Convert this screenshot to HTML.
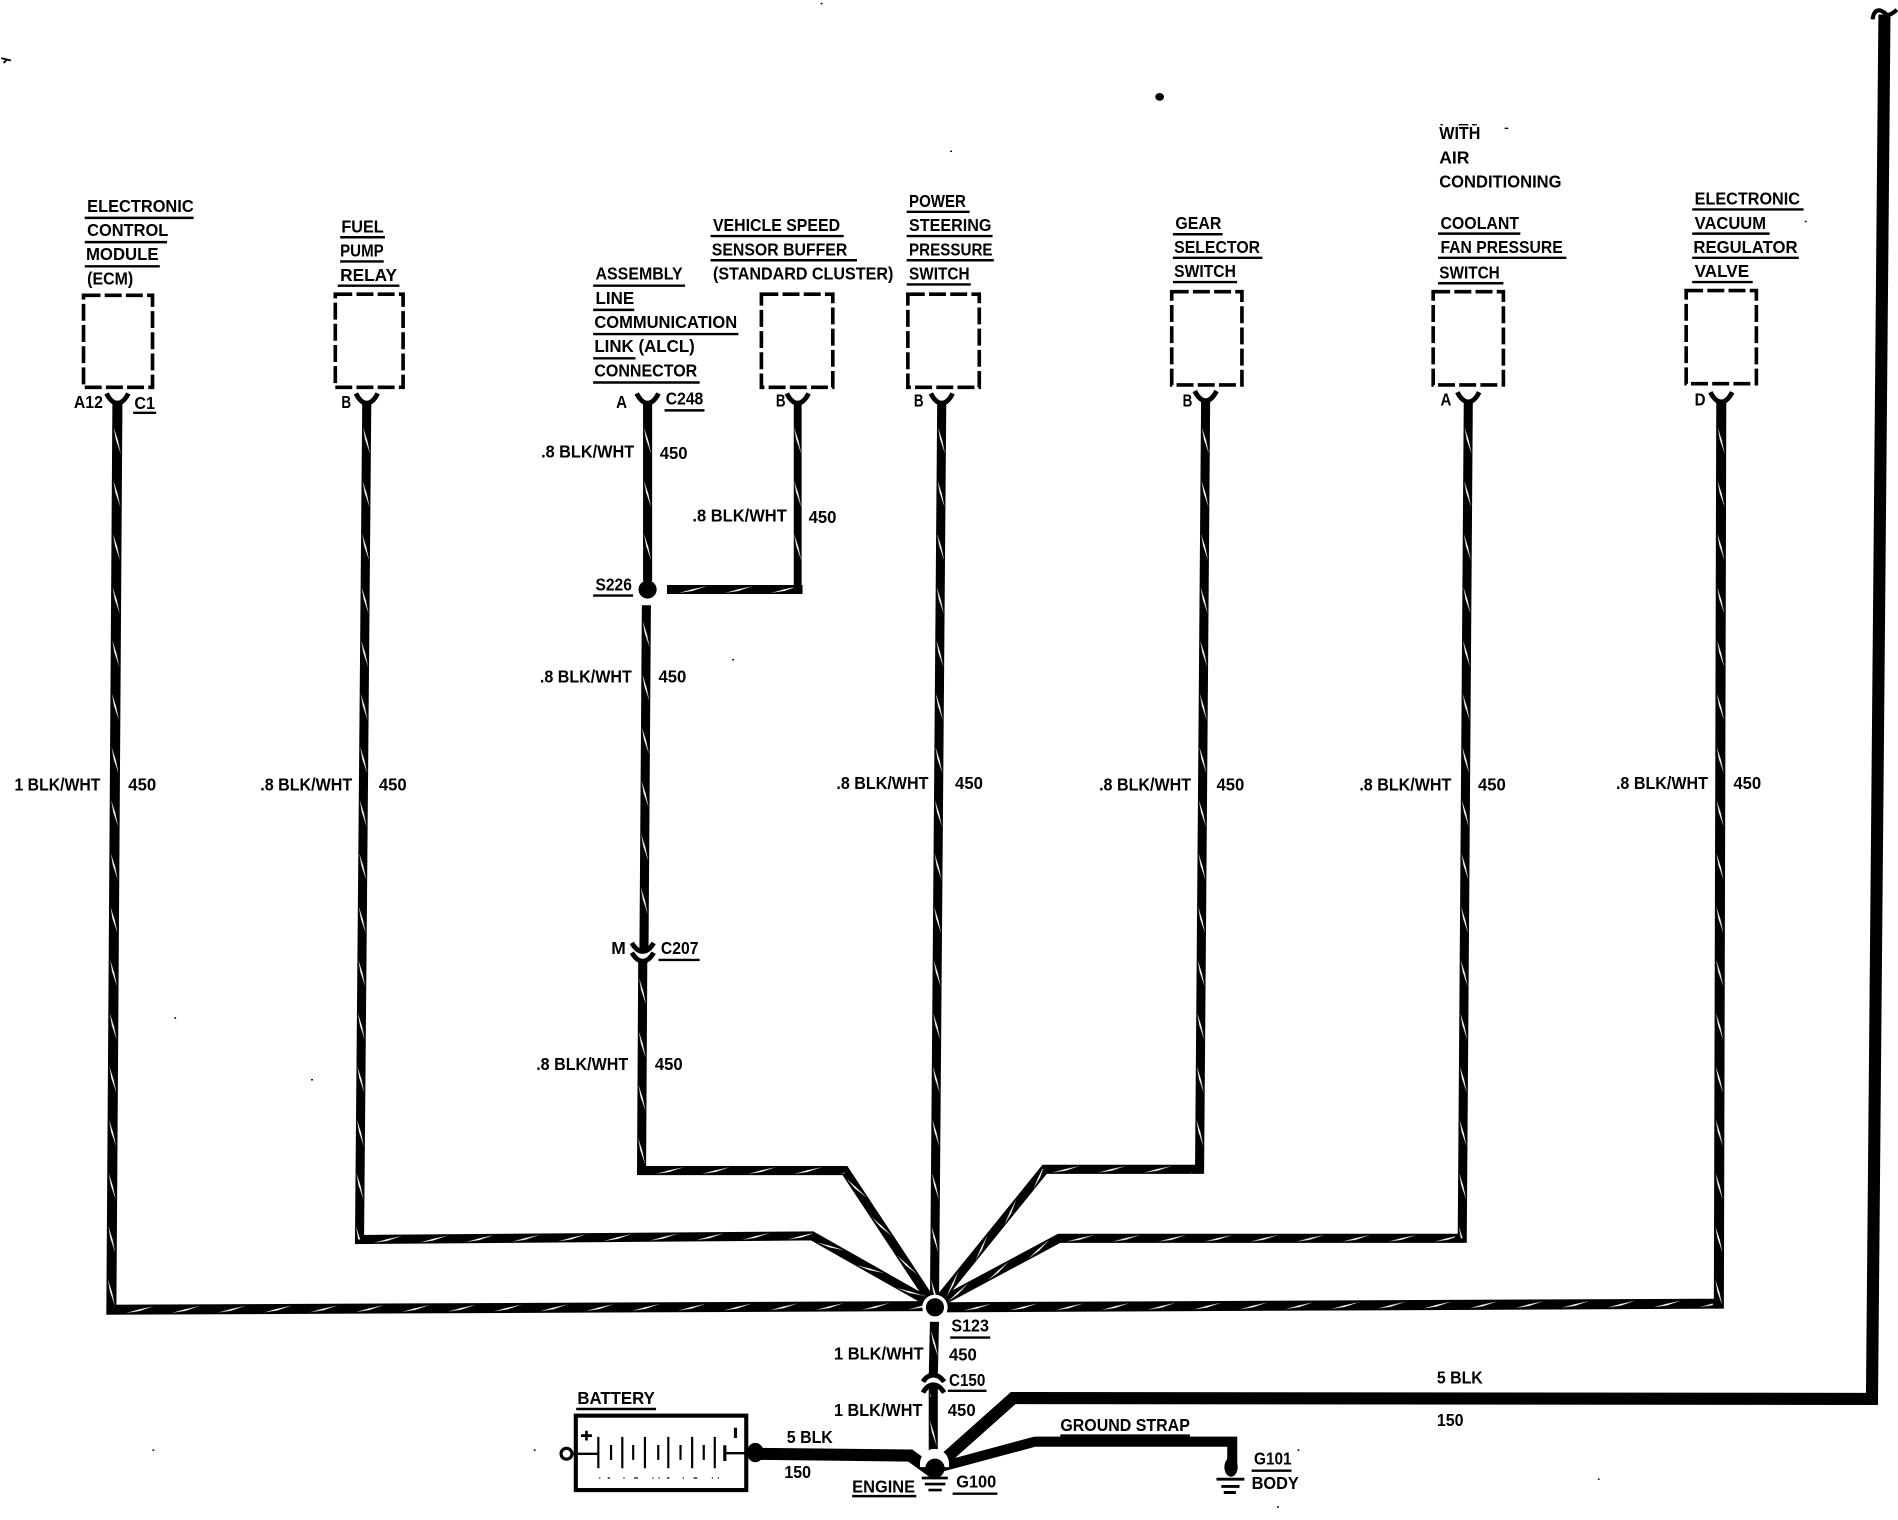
<!DOCTYPE html>
<html><head><meta charset="utf-8"><style>
html,body{margin:0;padding:0;background:#fff}
svg{display:block}
text{font-family:"Liberation Sans",sans-serif;font-weight:bold;font-size:14.5px;fill:#000}
.w{fill:none;stroke:#000;stroke-width:7.5;stroke-linejoin:miter}
.t{fill:none;stroke:#000;stroke-width:10}
.u{stroke:#000;stroke-width:2}
.b{fill:none;stroke:#000;stroke-width:3;stroke-dasharray:14 3.5}
.y{fill:none;stroke:#000;stroke-width:4}
</style></head><body>
<svg xmlns="http://www.w3.org/2000/svg" width="1898" height="1520" viewBox="0 0 1568 1255.7">
<defs>
<pattern id="h" patternUnits="userSpaceOnUse" x="0" y="-4" width="38" height="8"><polygon points="6,6.8 17,3.800 29,1.200 17,5.200" fill="#fff"/></pattern>
<pattern id="v" patternUnits="userSpaceOnUse" x="0" y="-4" width="44" height="8"><polygon points="8,7 18,5.200 30,1 19,3.400" fill="#fff"/></pattern>
</defs>
<rect width="1568" height="1256" fill="#fff"/>
<!-- wires -->
<path class="w" d="M97 332L92 1082L768 1079" style="stroke-width:8.3"/>
<path class="w" d="M303 332L297 1024L671 1021L768 1076" style="stroke-width:7.5"/>
<path class="w" d="M535 332L535 480"/>
<path class="w" d="M534 500L532 785"/>
<path class="w" d="M531 794L530 967L698 967L770 1076"/>
<path class="w" d="M659 332L659 487L661 487" style="stroke-width:6.5"/>
<path class="w" d="M551 487L663 487" style="stroke-width:7.5"/>
<path class="w" d="M778 332L772 1076"/>
<path class="w" d="M996 332L991 966L863 966L774 1076"/>
<path class="w" d="M1213 332L1208 1023L875 1023L776 1076"/>
<path class="w" d="M1422 332L1420 1077L776 1080" style="stroke-width:8.3"/>
<path class="w" d="M772 1092L771 1137"/>
<path class="w" d="M771 1145L771 1208"/>
<!-- streaks -->
<rect x="0" y="-4" width="737" height="8" fill="url(#v)" transform="translate(97 345) rotate(90.39)"/>
<rect x="0" y="-4" width="665" height="8" fill="url(#h)" transform="translate(98 1082) rotate(-0.25)"/>
<rect x="0" y="-4" width="679" height="8" fill="url(#v)" transform="translate(303 345) rotate(90.51)"/>
<rect x="0" y="-4" width="368" height="8" fill="url(#h)" transform="translate(303 1024) rotate(-0.46)"/>
<rect x="0" y="-4" width="105" height="8" fill="url(#h)" transform="translate(671 1021) rotate(29.7)"/>
<rect x="0" y="-4" width="133" height="8" fill="url(#v)" transform="translate(535 345) rotate(90)"/>
<rect x="0" y="-4" width="270" height="8" fill="url(#v)" transform="translate(534 505) rotate(90.42)"/>
<rect x="0" y="-4" width="167" height="8" fill="url(#v)" transform="translate(531 800) rotate(90.34)"/>
<rect x="0" y="-4" width="162" height="8" fill="url(#h)" transform="translate(536 967)"/>
<rect x="0" y="-4" width="123" height="8" fill="url(#h)" transform="translate(698 967) rotate(56.6)"/>
<rect x="0" y="-4" width="142" height="8" fill="url(#v)" transform="translate(659 345) rotate(90)"/>
<rect x="0" y="-4" width="100" height="8" fill="url(#h)" transform="translate(555 487)"/>
<rect x="0" y="-4" width="725" height="8" fill="url(#v)" transform="translate(778 345) rotate(90.47)"/>
<rect x="0" y="-4" width="621" height="8" fill="url(#v)" transform="translate(996 345) rotate(90.46)"/>
<rect x="0" y="-4" width="122" height="8" fill="url(#h)" transform="translate(863 966)"/>
<rect x="0" y="-4" width="138" height="8" fill="url(#h)" transform="translate(776 1074) rotate(-51.1)"/>
<rect x="0" y="-4" width="678" height="8" fill="url(#v)" transform="translate(1213 345) rotate(90.42)"/>
<rect x="0" y="-4" width="327" height="8" fill="url(#h)" transform="translate(875 1023)"/>
<rect x="0" y="-4" width="112" height="8" fill="url(#h)" transform="translate(776 1076) rotate(-28.2)"/>
<rect x="0" y="-4" width="732" height="8" fill="url(#v)" transform="translate(1422 345) rotate(90.16)"/>
<rect x="0" y="-4" width="625" height="8" fill="url(#h)" transform="translate(790 1080) rotate(-0.27)"/>
<rect x="0" y="-4" width="30" height="8" fill="url(#v)" transform="translate(772 1091) rotate(90)"/>
<rect x="0" y="-4" width="35" height="8" fill="url(#v)" transform="translate(771 1165) rotate(90)"/>
<rect x="0" y="-4" width="12" height="8" fill="url(#v)" transform="translate(771 1142) rotate(90)"/>
<!-- heavy wires -->
<path class="t" d="M773 1212L837 1155L1546.500 1155.700L1556.800 12"/>
<path class="t" d="M773 1213L855 1191L1018 1191L1018 1212" style="stroke-width:8.3"/>
<path class="t" d="M622 1201L752 1202.500L772 1217"/>
<path d="M1547 16Q1548 8 1553 8.500Q1557 10 1559 12.500Q1563 12 1567 8" fill="none" stroke="#000" stroke-width="3.4"/>
<!-- dots -->
<circle cx="772.400" cy="1080" r="10.500" fill="#fff"/><circle cx="772.400" cy="1080" r="7.500" fill="#000"/>
<circle cx="535" cy="487" r="7.500" fill="#000"/>
<path d="M760 1209A12 12 0 0 1 784 1209L784 1212H760Z" fill="#fff"/>
<circle cx="772.400" cy="1213" r="8" fill="#000"/>
<ellipse cx="1017" cy="1212" rx="5.500" ry="8" fill="#000"/>
<ellipse cx="624" cy="1200" rx="7" ry="8" fill="#000"/>
<ellipse cx="958" cy="80" rx="3.600" ry="3.200" fill="#000"/>
<path d="M1 48L9 50M3 52L6 49" stroke="#000" stroke-width="1.5"/>
<!-- boxes -->
<rect class="b" x="69" y="244" width="57" height="76"/>
<rect class="b" x="277" y="243" width="56" height="77"/>
<rect class="b" x="629" y="243" width="59" height="77"/>
<rect class="b" x="750" y="243" width="59" height="77"/>
<rect class="b" x="968" y="241" width="58" height="77"/>
<rect class="b" x="1184" y="241" width="58" height="77"/>
<rect class="b" x="1393" y="240" width="58" height="77"/>
<!-- connector ends -->
<path class="y" d="M88 325Q92 333 97 333Q102 333 106 325"/>
<path class="y" d="M294 325Q298 333 303 333Q308 333 312 325"/>
<path class="y" d="M526 325Q530 333 535 333Q540 333 544 325"/>
<path class="y" d="M650 325Q654 333 659 333Q664 333 668 325"/>
<path class="y" d="M769 325Q773 333 778 333Q783 333 787 325"/>
<path class="y" d="M987 323Q991 331 996 331Q1001 331 1005 323"/>
<path class="y" d="M1204 324Q1208 332 1213 332Q1218 332 1222 324"/>
<path class="y" d="M1413 324Q1417 332 1422 332Q1427 332 1431 324"/>
<path class="y" d="M522 779Q526 786 531 786Q536 786 540 779M522 787Q526 794 531 794Q536 794 540 787"/>
<path class="y" d="M762.500 1141.500Q766 1136 771 1136Q776 1136 780 1141.500M762.500 1150.500Q766 1144 771 1144Q776 1144 780 1150.500"/>
<!-- ground symbols -->
<path d="M761.500 1221H783M764 1226H781M767 1231H778" stroke="#000" stroke-width="2.200"/>
<path d="M1005 1222H1028M1009 1228H1024M1011 1233H1021" stroke="#000" stroke-width="2.400"/>
<!-- battery -->
<rect x="475.700" y="1169.500" width="140.800" height="61.500" fill="none" stroke="#000" stroke-width="3.400"/>
<circle cx="468" cy="1201" r="4.500" fill="#fff" stroke="#000" stroke-width="2.600"/>
<path d="M472 1201H494M599 1200.500H617" stroke="#000" stroke-width="2" fill="none"/>
<path d="M480 1186H489M484.500 1182V1190" stroke="#000" stroke-width="2.200" fill="none"/>
<path d="M494.300 1187V1213M514.100 1187V1213M532.800 1187V1213M552.100 1187V1213M571.800 1187V1213M590.500 1187V1213" stroke="#000" stroke-width="1.800"/>
<path d="M504.800 1193.700V1206M523.100 1193.700V1206M543.800 1193.700V1206M562.200 1193.700V1206M581.400 1193.700V1206" stroke="#000" stroke-width="1.800"/>
<path d="M598.800 1194V1207M607.600 1179.500V1188" stroke="#000" stroke-width="2.600"/>
<path d="M495 1221H595" stroke="#000" stroke-width="1" stroke-dasharray="1 6 2 11 1 8 3 12 1 4"/>
<!-- specks -->
<path d="M144 841h1.500M1491 183h1.500M257 892h1.500M126 1198h1.500M441 1198h1.500M605 545h1.500M1320 1222h1.500M785 125h1.500M1190 103h2M1205 103h8M1216 103h4M1243 106h3M1055 1245h1.500M678 3h1.500M1072 1198h1.500" stroke="#000" stroke-width="1.200"/>
<!-- underlines -->
<path class="u" d="M70 180H160M70 200H138M70 220H132M281 196H318M281 216H317M279 236H330M490 236H566M490 256H524M490 276H610M490 296H525M490 316H578M587 195H697M587 215H708M749 175H801M749 195H820M749 215H821M749 235H802M969 193.500H1010M969 213H1043M969 233H1022M1188 193H1256M1188 213H1294M1188 234H1242M1398 173H1490M1398 193H1462M1398 213H1486M1398 233H1448M110 341H129M549 339H582M490 492H523M544 793H578M785 1105H818M783 1149H815M476 1164H542M876 1186H983M704 1236H757M787 1234H824M1034 1215H1067"/>
<!-- text -->
<text x="72" y="175" textLength="88" lengthAdjust="spacingAndGlyphs">ELECTRONIC</text>
<text x="72" y="195" textLength="67" lengthAdjust="spacingAndGlyphs">CONTROL</text>
<text x="71" y="215" textLength="60" lengthAdjust="spacingAndGlyphs">MODULE</text>
<text x="72" y="235" textLength="38" lengthAdjust="spacingAndGlyphs">(ECM)</text>
<text x="282" y="192" textLength="35" lengthAdjust="spacingAndGlyphs">FUEL</text>
<text x="281" y="212" textLength="36" lengthAdjust="spacingAndGlyphs">PUMP</text>
<text x="281" y="232" textLength="47" lengthAdjust="spacingAndGlyphs">RELAY</text>
<text x="492" y="231" textLength="72" lengthAdjust="spacingAndGlyphs">ASSEMBLY</text>
<text x="492" y="251" textLength="32" lengthAdjust="spacingAndGlyphs">LINE</text>
<text x="491" y="271" textLength="118" lengthAdjust="spacingAndGlyphs">COMMUNICATION</text>
<text x="491" y="291" textLength="83" lengthAdjust="spacingAndGlyphs">LINK (ALCL)</text>
<text x="491" y="311" textLength="85" lengthAdjust="spacingAndGlyphs">CONNECTOR</text>
<text x="589" y="191" textLength="105" lengthAdjust="spacingAndGlyphs">VEHICLE SPEED</text>
<text x="588" y="211" textLength="112" lengthAdjust="spacingAndGlyphs">SENSOR BUFFER</text>
<text x="589" y="231" textLength="149" lengthAdjust="spacingAndGlyphs">(STANDARD CLUSTER)</text>
<text x="751" y="171" textLength="47" lengthAdjust="spacingAndGlyphs">POWER</text>
<text x="751" y="191" textLength="68" lengthAdjust="spacingAndGlyphs">STEERING</text>
<text x="751" y="211" textLength="69" lengthAdjust="spacingAndGlyphs">PRESSURE</text>
<text x="751" y="231" textLength="50" lengthAdjust="spacingAndGlyphs">SWITCH</text>
<text x="971" y="189" textLength="38" lengthAdjust="spacingAndGlyphs">GEAR</text>
<text x="970" y="209" textLength="71" lengthAdjust="spacingAndGlyphs">SELECTOR</text>
<text x="970" y="229" textLength="51" lengthAdjust="spacingAndGlyphs">SWITCH</text>
<text x="1189" y="115" textLength="34" lengthAdjust="spacingAndGlyphs">WITH</text>
<text x="1189" y="135" textLength="25" lengthAdjust="spacingAndGlyphs">AIR</text>
<text x="1189" y="155" textLength="101" lengthAdjust="spacingAndGlyphs">CONDITIONING</text>
<text x="1190" y="189" textLength="65" lengthAdjust="spacingAndGlyphs">COOLANT</text>
<text x="1190" y="209" textLength="101" lengthAdjust="spacingAndGlyphs">FAN PRESSURE</text>
<text x="1189" y="230" textLength="50" lengthAdjust="spacingAndGlyphs">SWITCH</text>
<text x="1400" y="169" textLength="87" lengthAdjust="spacingAndGlyphs">ELECTRONIC</text>
<text x="1400" y="189" textLength="59" lengthAdjust="spacingAndGlyphs">VACUUM</text>
<text x="1399" y="209" textLength="86" lengthAdjust="spacingAndGlyphs">REGULATOR</text>
<text x="1400" y="229" textLength="45" lengthAdjust="spacingAndGlyphs">VALVE</text>
<text x="61" y="337" textLength="24" lengthAdjust="spacingAndGlyphs">A12</text>
<text x="111" y="338" textLength="17" lengthAdjust="spacingAndGlyphs">C1</text>
<text x="282" y="337" textLength="8" lengthAdjust="spacingAndGlyphs">B</text>
<text x="509" y="337" textLength="9" lengthAdjust="spacingAndGlyphs">A</text>
<text x="550" y="334" textLength="31" lengthAdjust="spacingAndGlyphs">C248</text>
<text x="641" y="336" textLength="8" lengthAdjust="spacingAndGlyphs">B</text>
<text x="755" y="336" textLength="8" lengthAdjust="spacingAndGlyphs">B</text>
<text x="977" y="336" textLength="8" lengthAdjust="spacingAndGlyphs">B</text>
<text x="1190" y="335" textLength="9" lengthAdjust="spacingAndGlyphs">A</text>
<text x="1400" y="335" textLength="9" lengthAdjust="spacingAndGlyphs">D</text>
<text x="12" y="653" textLength="71" lengthAdjust="spacingAndGlyphs">1 BLK/WHT</text><text x="106" y="653" textLength="23" lengthAdjust="spacingAndGlyphs">450</text>
<text x="215" y="653" textLength="76" lengthAdjust="spacingAndGlyphs">.8 BLK/WHT</text><text x="313" y="653" textLength="23" lengthAdjust="spacingAndGlyphs">450</text>
<text x="447" y="378" textLength="77" lengthAdjust="spacingAndGlyphs">.8 BLK/WHT</text><text x="545" y="379" textLength="23" lengthAdjust="spacingAndGlyphs">450</text>
<text x="572" y="431" textLength="78" lengthAdjust="spacingAndGlyphs">.8 BLK/WHT</text><text x="668" y="432" textLength="23" lengthAdjust="spacingAndGlyphs">450</text>
<text x="492" y="488" textLength="30" lengthAdjust="spacingAndGlyphs">S226</text>
<text x="446" y="564" textLength="76" lengthAdjust="spacingAndGlyphs">.8 BLK/WHT</text><text x="544" y="564" textLength="23" lengthAdjust="spacingAndGlyphs">450</text>
<text x="505" y="788" textLength="12" lengthAdjust="spacingAndGlyphs">M</text>
<text x="546" y="788" textLength="31" lengthAdjust="spacingAndGlyphs">C207</text>
<text x="443" y="884" textLength="76" lengthAdjust="spacingAndGlyphs">.8 BLK/WHT</text><text x="541" y="884" textLength="23" lengthAdjust="spacingAndGlyphs">450</text>
<text x="691" y="652" textLength="76" lengthAdjust="spacingAndGlyphs">.8 BLK/WHT</text><text x="789" y="652" textLength="23" lengthAdjust="spacingAndGlyphs">450</text>
<text x="908" y="653" textLength="76" lengthAdjust="spacingAndGlyphs">.8 BLK/WHT</text><text x="1005" y="653" textLength="23" lengthAdjust="spacingAndGlyphs">450</text>
<text x="1123" y="653" textLength="76" lengthAdjust="spacingAndGlyphs">.8 BLK/WHT</text><text x="1221" y="653" textLength="23" lengthAdjust="spacingAndGlyphs">450</text>
<text x="1335" y="652" textLength="76" lengthAdjust="spacingAndGlyphs">.8 BLK/WHT</text><text x="1432" y="652" textLength="23" lengthAdjust="spacingAndGlyphs">450</text>
<text x="786" y="1100" textLength="31" lengthAdjust="spacingAndGlyphs">S123</text>
<text x="689" y="1123" textLength="74" lengthAdjust="spacingAndGlyphs">1 BLK/WHT</text><text x="784" y="1124" textLength="23" lengthAdjust="spacingAndGlyphs">450</text>
<text x="784" y="1145" textLength="30" lengthAdjust="spacingAndGlyphs">C150</text>
<text x="689" y="1170" textLength="73" lengthAdjust="spacingAndGlyphs">1 BLK/WHT</text><text x="783" y="1170" textLength="23" lengthAdjust="spacingAndGlyphs">450</text>
<text x="650" y="1192" textLength="38" lengthAdjust="spacingAndGlyphs">5 BLK</text><text x="648" y="1221" textLength="22" lengthAdjust="spacingAndGlyphs">150</text>
<text x="1187" y="1143" textLength="38" lengthAdjust="spacingAndGlyphs">5 BLK</text><text x="1187" y="1178" textLength="22" lengthAdjust="spacingAndGlyphs">150</text>
<text x="477" y="1160" textLength="64" lengthAdjust="spacingAndGlyphs">BATTERY</text>
<text x="876" y="1182" textLength="107" lengthAdjust="spacingAndGlyphs">GROUND STRAP</text>
<text x="704" y="1233" textLength="52" lengthAdjust="spacingAndGlyphs">ENGINE</text>
<text x="790" y="1229" textLength="33" lengthAdjust="spacingAndGlyphs">G100</text>
<text x="1036" y="1210" textLength="31" lengthAdjust="spacingAndGlyphs">G101</text>
<text x="1034" y="1230" textLength="39" lengthAdjust="spacingAndGlyphs">BODY</text>
</svg>
</body></html>
